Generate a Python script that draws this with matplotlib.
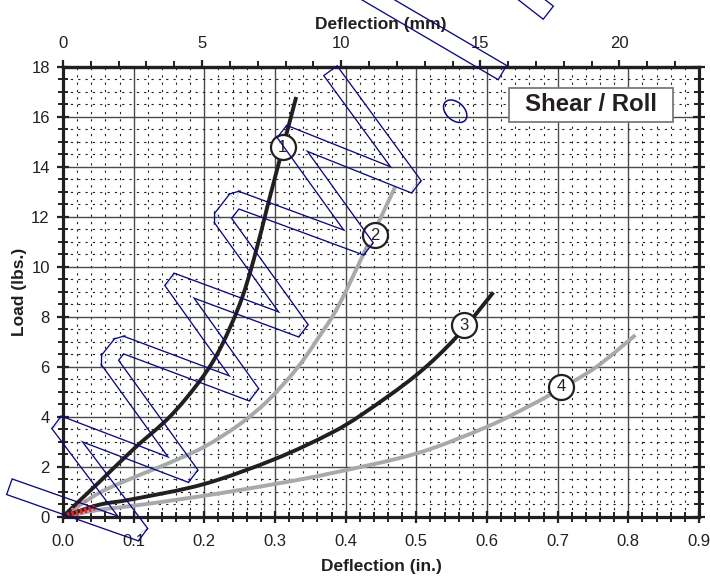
import numpy as np
import matplotlib
matplotlib.use('Agg')
import matplotlib.pyplot as plt
from matplotlib.ticker import MultipleLocator, FormatStrFormatter
from matplotlib.patches import Polygon, Ellipse, PathPatch, Rectangle
from matplotlib.path import Path

plt.rcParams['font.family'] = ['Liberation Sans', 'DejaVu Sans']

# load / deflection curves (in., lbs.)
c1_x = [0, 0.02, 0.05, 0.10, 0.15, 0.19, 0.22, 0.25, 0.27, 0.29, 0.31, 0.33]
c1_y = [0, 0.55, 1.35, 2.71, 3.97, 5.3, 6.6, 8.5, 10.3, 12.5, 14.65, 16.8]
c2_x = [0, 0.05, 0.10, 0.15, 0.20, 0.25, 0.29, 0.33, 0.36, 0.39, 0.43, 0.47]
c2_y = [0, 0.93, 1.57, 2.15, 2.8, 3.7, 4.65, 5.9, 7.1, 8.45, 10.8, 13.2]
c3_x = [0, 0.05, 0.10, 0.20, 0.30, 0.378, 0.425, 0.50, 0.557, 0.609]
c3_y = [0, 0.47, 0.71, 1.31, 2.31, 3.33, 4.13, 5.67, 7.2, 8.98]
c4_x = [0, 0.05, 0.10, 0.20, 0.30, 0.378, 0.50, 0.60, 0.661, 0.701, 0.755, 0.81]
c4_y = [0, 0.27, 0.44, 0.84, 1.31, 1.73, 2.53, 3.6, 4.45, 5.07, 6.0, 7.27]

# numbered tags sitting on the curves
tag_text = ['1', '2', '3', '4']
tag_x = [0.311, 0.441, 0.568, 0.705]
tag_y = [14.79, 11.27, 7.67, 5.21]

# scribbled zigzag strokes (in., lbs.)
zig_x = [-0.075, 0.110, -0.006, 0.181, 0.064, 0.082, 0.267, 0.154, 0.337,
         0.224, 0.245, 0.429, 0.313, 0.497, 0.379]
zig_y = [1.19, -0.65, 3.71, 1.69, 6.27, 6.91, 4.95, 9.43, 7.51,
         11.95, 12.71, 10.79, 15.35, 13.27, 17.83]
stroke2_x = [0.417, 0.621]
stroke2_y = [21.17, 17.79]
stroke3_x = [0.622, 0.686]
stroke3_y = [21.6, 20.19]
loop_xy = (0.555, 16.23)

INK = '#231f20'
GREY = '#a7a9ac'
NAVY = np.array([10, 10, 128]) / 255

W, H, DPI = 710, 576, 100

fig = plt.figure(figsize=(W / DPI, H / DPI), dpi=DPI)
ax = fig.add_axes([63 / W, 1 - 516.7 / H, 636 / W, 449.7 / H])
ax.set_xlim(0, 0.9)
ax.set_ylim(0, 18)
ax.set_autoscale_on(False)

ax.xaxis.set_major_locator(MultipleLocator(0.1))
ax.xaxis.set_minor_locator(MultipleLocator(0.02))
ax.xaxis.set_major_formatter(FormatStrFormatter('%.1f'))
ax.yaxis.set_major_locator(MultipleLocator(2))
ax.yaxis.set_minor_locator(MultipleLocator(0.5))

ax.grid(True, which='major', color='#4a4a4a', lw=1.0, ls='-')
ax.grid(True, which='minor', color=INK, lw=0.8, ls=(0, (2.0, 4.6)))

for s in ax.spines.values():
    s.set_linewidth(2.3)
    s.set_color(INK)

ax.tick_params(which='both', direction='inout', color=INK, right=True,
               labelsize=12, labelcolor=INK)
ax.tick_params(which='major', length=9, width=1.6)
ax.tick_params(which='minor', length=7, width=1.4)
ax.tick_params(axis='x', which='major', pad=8)
ax.tick_params(axis='y', which='major', pad=5)

ax.set_xlabel('Deflection (in.)', fontsize=12.5, fontweight='bold',
              color=INK, labelpad=7)
ax.set_ylabel('Load (lbs.)', fontsize=12.5, fontweight='bold',
              color=INK, labelpad=3)

# millimetre scale along the top
ax2 = ax.twiny()
ax2.set_xlim(0, 0.9 * 25.4)
ax2.xaxis.set_major_locator(MultipleLocator(5))
ax2.xaxis.set_minor_locator(MultipleLocator(1))
for name, s in ax2.spines.items():
    s.set_visible(name == 'top')
    s.set_linewidth(2.3)
    s.set_color(INK)
ax2.tick_params(which='both', direction='out', color=INK, labelsize=12,
                labelcolor=INK, pad=6.5)
ax2.tick_params(which='major', length=5, width=1.6)
ax2.tick_params(which='minor', length=4.5, width=1.4)
ax2.set_xlabel('Deflection (mm)', fontsize=12.5, fontweight='bold',
               color=INK, labelpad=5)


def smooth_path(xs, ys):
    # Catmull-Rom through the read points, as cubic Bezier pieces
    p = np.column_stack([xs, ys]).astype(float)
    ext = np.vstack([p[0], p, p[-1]])
    verts = [p[0]]
    codes = [Path.MOVETO]
    for i in range(len(p) - 1):
        a, b, c, d = ext[i], ext[i + 1], ext[i + 2], ext[i + 3]
        verts += [b + (c - a) / 6, c - (d - b) / 6, c]
        codes += [Path.CURVE4] * 3
    return Path(verts, codes)


for xs, ys, col, z in [(c4_x, c4_y, GREY, 2), (c2_x, c2_y, GREY, 2),
                       (c3_x, c3_y, INK, 2.1), (c1_x, c1_y, INK, 2.1)]:
    ax.add_patch(PathPatch(smooth_path(xs, ys), fc='none', ec=col, lw=2.8,
                           capstyle='butt', zorder=z))

# red trace right at the origin
ax.plot([0, 0.045], [0, 0.36], color='#e8262a', lw=4.0,
        ls=(0, (0.45, 0.35)), zorder=2.2)
ax.plot([0.012, 0.04], [0.28, 0.75], color='#e07070', lw=1.8,
        ls=(0, (1, 2)), zorder=2.2)

for t, x, y in zip(tag_text, tag_x, tag_y):
    ax.plot(x, y, 'o', ms=18, mfc='white', mec=INK, mew=1.6, zorder=3)
    ax.text(x, y, t, fontsize=12, color=INK, ha='center', va='center',
            zorder=3.1)

ax.add_patch(Rectangle((0.7013, 0.8777), 0.2578, 0.0756,
                       transform=ax.transAxes, fc='white', ec='#7a7a7a',
                       lw=1.3, zorder=4))
ax.text(0.8302, 0.9155, 'Shear / Roll', transform=ax.transAxes,
        fontsize=17.3, fontweight='bold', color=INK, ha='center',
        va='center', zorder=4.1)


def band_shapes(xs, ys, half):
    # rectangles per segment plus bevel wedges at each turn, in pixels
    pts = ax.transData.transform(np.column_stack([xs, ys]))
    shapes = []
    dirs = []
    for p, q in zip(pts[:-1], pts[1:]):
        d = (q - p) / np.hypot(*(q - p))
        n = np.array([-d[1], d[0]])
        dirs.append((d, n))
        shapes.append([p + n * half, q + n * half, q - n * half, p - n * half])
    for i in range(1, len(pts) - 1):
        (d1, n1), (d2, n2) = dirs[i - 1], dirs[i]
        side = -np.sign(d1[0] * d2[1] - d1[1] * d2[0])
        v = pts[i]
        shapes.append([v, v + side * n1 * half, v + side * n2 * half])
    return shapes


shapes = []
for xs, ys in [(zig_x, zig_y), (stroke2_x, stroke2_y), (stroke3_x, stroke3_y)]:
    shapes += band_shapes(xs, ys, 7.6)

# render the stroke outlines on a scratch canvas, then lay them over the
# chart with a see-through interior
scratch = plt.figure(figsize=(W / DPI, H / DPI), dpi=DPI)
sax = scratch.add_axes([0, 0, 1, 1])
sax.set_xlim(0, W)
sax.set_ylim(0, H)
sax.axis('off')
for sh in shapes:
    sax.add_patch(Polygon(sh, closed=True, fc='black', ec='black', lw=1.9))
for sh in shapes:
    sax.add_patch(Polygon(sh, closed=True, fc='white', ec='none'))
cx, cy = ax.transData.transform(loop_xy)
sax.add_patch(Ellipse((cx, cy), 27, 18, angle=-42, fc='none', ec='black',
                      lw=1.1))
scratch.canvas.draw()
buf = np.asarray(scratch.canvas.buffer_rgba()).astype(float) / 255
plt.close(scratch)

overlay = np.zeros((buf.shape[0], buf.shape[1], 4))
overlay[..., :3] = NAVY
overlay[..., 3] = np.clip(1 - buf[..., 0], 0, 1)
fig.figimage(overlay, 0, 0, origin='upper', zorder=10)

fig.savefig('out.png', dpi=DPI)
